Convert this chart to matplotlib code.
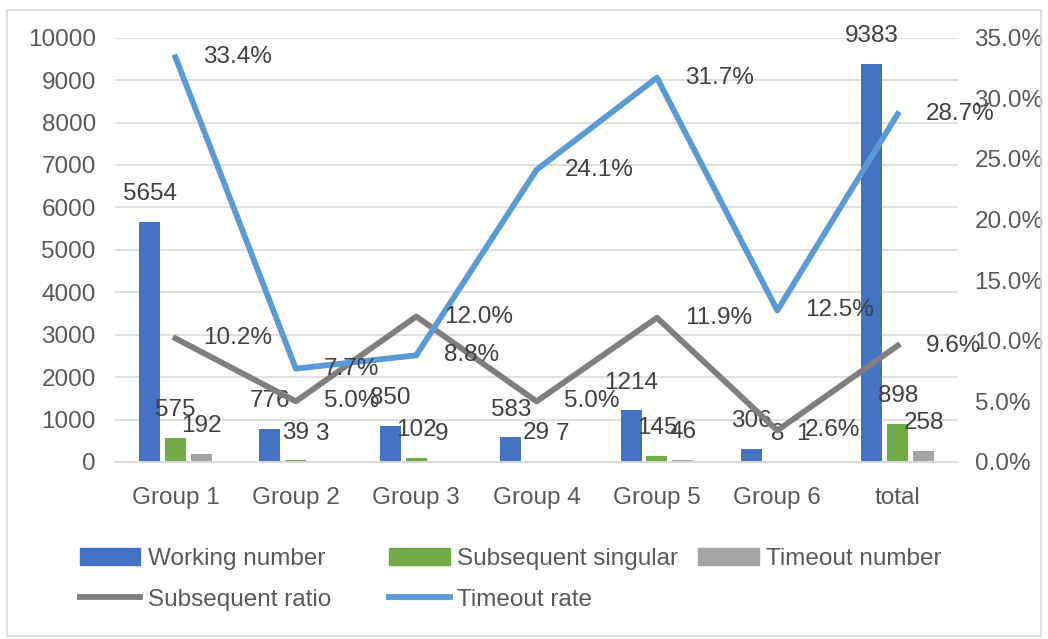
import numpy as np
import matplotlib
matplotlib.use("Agg")
import matplotlib.pyplot as plt
from matplotlib.patches import Patch, Rectangle
from matplotlib.lines import Line2D
from matplotlib.ticker import FuncFormatter

plt.rcParams['font.family'] = ['Liberation Sans', 'DejaVu Sans']

groups = ["Group 1", "Group 2", "Group 3", "Group 4", "Group 5", "Group 6", "total"]
working = [5654, 776, 850, 583, 1214, 306, 9383]
singular = [575, 39, 102, 29, 145, 8, 898]
timeout_num = [192, 3, 9, 7, 46, 1, 258]
sub_ratio = [10.2, 5.0, 12.0, 5.0, 11.9, 2.6, 9.6]
timeout_rate = [33.4, 7.7, 8.8, 24.1, 31.7, 12.5, 28.7]

c_blue = "#4472C4"
c_green = "#70AD47"
c_gray = "#A5A5A5"
c_line_gray = "#7F7F7F"
c_line_blue = "#5B9BD5"
txt = "#595959"
lab = "#404040"
fs = 17.5

fig = plt.figure(figsize=(10.48, 6.39), dpi=100)
ax = fig.add_axes([0.110, 0.277, 0.804, 0.664])
ax2 = ax.twinx()

x = np.arange(len(groups))
w = 0.175
off = 0.215
b1 = ax.bar(x - off, working, w, color=c_blue, zorder=2)
b2 = ax.bar(x, singular, w, color=c_green, zorder=2)
b3 = ax.bar(x + off, timeout_num, w, color=c_gray, zorder=2)

for bars, vals in [(b1, working), (b2, singular), (b3, timeout_num)]:
    for r, v in zip(bars, vals):
        ax.annotate(str(v), (r.get_x() + r.get_width() / 2, v), xytext=(0, 12),
                    textcoords="offset points", ha="center", va="bottom",
                    fontsize=fs, color=lab, zorder=5)

ax2.plot(x, sub_ratio, color=c_line_gray, lw=4.2, zorder=3)
ax2.plot(x, timeout_rate, color=c_line_blue, lw=4.2, zorder=3)
for vals in [sub_ratio, timeout_rate]:
    for xi, v in zip(x, vals):
        ax2.annotate("%.1f%%" % v, (xi, v), xytext=(20, 0), textcoords="offset points",
                     ha="left", va="center", fontsize=fs, color=lab, zorder=5)

ax.set_xlim(-0.5, len(groups) - 0.5)
ax.set_ylim(0, 10000)
ax.set_yticks(np.arange(0, 10001, 1000))
ax2.set_ylim(0, 35)
ax2.set_yticks(np.arange(0, 35.1, 5))
ax2.yaxis.set_major_formatter(FuncFormatter(lambda v, p: "%.1f%%" % v))

ax.set_xticks(x)
ax.set_xticklabels(groups)
ax.grid(axis="y", color="#D9D9D9", lw=1.2, zorder=0)
ax.set_axisbelow(True)
for a in (ax, ax2):
    for s in ["top", "left", "right"]:
        a.spines[s].set_visible(False)
    a.spines["bottom"].set_color("#D9D9D9")
    a.spines["bottom"].set_linewidth(1.2)
    a.tick_params(length=0, labelsize=fs, labelcolor=txt)
ax.tick_params(axis="y", pad=14)
ax2.tick_params(axis="y", pad=12)
ax.tick_params(axis="x", pad=18)

# legend, three fixed columns like the original
h_work = Patch(color=c_blue)
h_sing = Patch(color=c_green)
h_tout = Patch(color=c_gray)
h_ratio = Line2D([], [], color=c_line_gray, lw=4.2)
h_rate = Line2D([], [], color=c_line_blue, lw=4.2)
cols = [([h_work, h_ratio], ["Working number", "Subsequent ratio"], 0.076),
        ([h_sing, h_rate], ["Subsequent singular", "Timeout rate"], 0.371),
        ([h_tout], ["Timeout number"], 0.666)]
for hs, ls, xl in cols:
    fig.legend(hs, ls, loc="upper left", bbox_to_anchor=(xl, 0.142),
               bbox_transform=fig.transFigure, frameon=False, fontsize=fs,
               labelcolor=txt, handlelength=2.5, handleheight=0.7,
               handletextpad=0.3, labelspacing=0.75, borderpad=0, borderaxespad=0)

fig.patches.append(Rectangle((0.007, 0.005), 0.986, 0.98, transform=fig.transFigure,
                             fill=False, edgecolor="#D9D9D9", lw=1.2))

fig.savefig("out.png", dpi=100)
